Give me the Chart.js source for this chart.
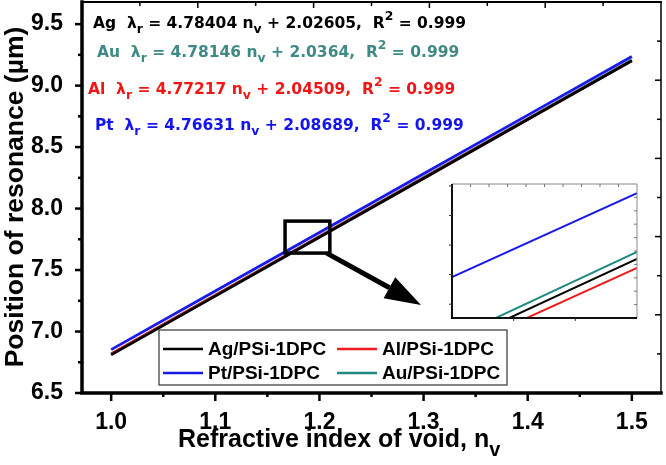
<!DOCTYPE html>
<html>
<head>
<meta charset="utf-8">
<script src="https://cdn.jsdelivr.net/npm/chart.js@4.4.1/dist/chart.umd.min.js"></script>
<style>
  html, body { margin: 0; padding: 0; background: #fff; }
  #wrap { position: relative; width: 666px; height: 465px; }
  #mainChart { position: absolute; left: 0; top: 0; }
  #insetChart { position: absolute; left: 446px; top: 178px; }
</style>
</head>
<body>
<div id="wrap">
  <canvas id="mainChart" width="666" height="465"></canvas>
  <canvas id="insetChart" width="197" height="146"></canvas>
</div>
<script>
// refractive index of void (x) and resonance position in µm (y)
const nVoid = [1.0, 1.1, 1.2, 1.3, 1.4, 1.5];
const agRes = [6.810, 7.288, 7.767, 8.245, 8.724, 9.202];
const alRes = [6.817, 7.294, 7.772, 8.249, 8.726, 9.203];
const ptRes = [6.853, 7.330, 7.806, 8.283, 8.760, 9.236];
const auRes = [6.818, 7.296, 7.774, 8.252, 8.730, 9.209];

// zoomed inset (ends of each line)
const insetN = [1.17, 1.215];
const insetAg = [7.533, 7.750];
const insetAl = [7.514, 7.727];
const insetPt = [7.704, 7.917];
const insetAu = [7.548, 7.768];

// legend names + colours
const seriesNames = ["Ag/PSi-1DPC", "Al/PSi-1DPC", "Pt/PSi-1DPC", "Au/PSi-1DPC"];
const seriesColors = ["#000000", "#ee1c1c", "#1a1ae6", "#1f8a80"];

// linear fit text
const fitMetals = ["Ag", "Au", "Al", "Pt"];
const fitSlopes = ["4.78404", "4.78146", "4.77217", "4.76631"];
const fitIntercepts = ["2.02605", "2.0364", "2.04509", "2.08689"];
const fitR2 = "0.999";
const fitColors = ["#000000", "#3f8a86", "#f01616", "#1414ee"];

const xTicks = [1.0, 1.1, 1.2, 1.3, 1.4, 1.5];
const yTicks = [6.5, 7.0, 7.5, 8.0, 8.5, 9.0, 9.5];

function pts(xs, ys) {
    return xs.map((x, i) => ({ x: x, y: ys[i] }));
}

// text with sub / superscripts
function drawRich(ctx, x, y, parts, color, size, family) {
    ctx.fillStyle = color;
    ctx.textBaseline = "alphabetic";
    ctx.textAlign = "left";
    parts.forEach(p => {
        let s = size, dy = 0;
        if (p[1] === "sub") { s = size * 0.8; dy = size * 0.35; }
        if (p[1] === "sup") { s = size * 0.8; dy = -size * 0.5; }
        ctx.font = "bold " + s + "px " + family;
        ctx.fillText(p[0], x, y + dy);
        x += ctx.measureText(p[0]).width;
    });
    return x;
}

function noPad(s) {
    s.paddingTop = 0; s.paddingBottom = 0; s.paddingLeft = 0; s.paddingRight = 0;
}

const mainDecor = {
    id: "mainDecor",
    afterDatasetsDraw(chart) {
        const ctx = chart.ctx;
        const ca = chart.chartArea;
        const xs = chart.scales.x, ys = chart.scales.y;
        ctx.save();

        // frame
        ctx.strokeStyle = "#000";
        ctx.lineCap = "square";
        ctx.lineWidth = 2;
        ctx.beginPath();
        ctx.moveTo(ca.left, ca.top); ctx.lineTo(ca.right, ca.top);
        ctx.stroke();
        ctx.lineWidth = 1.5;
        ctx.beginPath();
        ctx.moveTo(ca.right, ca.top); ctx.lineTo(ca.right, ca.bottom);
        ctx.stroke();
        ctx.lineWidth = 3.5;
        ctx.beginPath();
        ctx.moveTo(ca.left, ca.top); ctx.lineTo(ca.left, ca.bottom); ctx.lineTo(ca.right, ca.bottom);
        ctx.stroke();

        // ticks left / bottom (outward), majors + minors
        ctx.lineCap = "butt";
        ctx.lineWidth = 2.5;
        for (let v = 6.5; v <= 9.51; v += 0.25) {
            const py = ys.getPixelForValue(v);
            const major = Math.abs(v * 2 - Math.round(v * 2)) < 1e-6;
            ctx.beginPath();
            ctx.moveTo(ca.left - (major ? 7 : 4), py); ctx.lineTo(ca.left, py);
            ctx.stroke();
        }
        for (let v = 1.0; v <= 1.501; v += 0.05) {
            const px = xs.getPixelForValue(v);
            const major = Math.abs(v * 10 - Math.round(v * 10)) < 1e-6;
            ctx.beginPath();
            ctx.moveTo(px, ca.bottom); ctx.lineTo(px, ca.bottom + (major ? 8 : 4));
            ctx.stroke();
        }
        // top / right ticks (inward)
        ctx.lineWidth = 1.5;
        for (let i = 1; i < 10; i++) {
            const px = ca.left + (ca.right - ca.left) * i / 10;
            ctx.beginPath(); ctx.moveTo(px, ca.top); ctx.lineTo(px, ca.top + (i % 2 ? 4 : 6)); ctx.stroke();
            const py = ca.bottom - (ca.bottom - ca.top) * i / 10;
            ctx.beginPath(); ctx.moveTo(ca.right, py); ctx.lineTo(ca.right - (i % 2 ? 4 : 6), py); ctx.stroke();
        }

        // axis titles
        ctx.fillStyle = "#000";
        ctx.save();
        ctx.translate(23, 197);
        ctx.rotate(-Math.PI / 2);
        ctx.font = "bold 26.5px 'Liberation Sans', Arial, sans-serif";
        ctx.textAlign = "center";
        ctx.textBaseline = "alphabetic";
        ctx.fillText("Position of resonance (µm)", 0, 0);
        ctx.restore();
        drawRich(ctx, 178, 447, [["Refractive index of void, n", ""], ["v", "sub"]], "#000", 25, "'Liberation Sans', Arial, sans-serif");

        // fit equations
        const fitX = [93, 97, 88, 95];
        const fitY = [28, 57, 94, 130];
        fitMetals.forEach((m, i) => {
            drawRich(ctx, fitX[i], fitY[i], [
                [m + "  ", ""], ["λ", ""], ["r", "sub"],
                [" = " + fitSlopes[i] + " n", ""], ["v", "sub"],
                [" + " + fitIntercepts[i] + ",  R", ""], ["2", "sup"],
                [" = " + fitR2, ""]
            ], fitColors[i], 15.5, "'DejaVu Sans', Verdana, sans-serif");
        });

        // zoom box + arrow
        const bx0 = xs.getPixelForValue(1.167), bx1 = xs.getPixelForValue(1.210);
        const by0 = ys.getPixelForValue(7.898), by1 = ys.getPixelForValue(7.638);
        ctx.strokeStyle = "#000";
        ctx.lineWidth = 3.5;
        ctx.strokeRect(bx0, by0, bx1 - bx0, by1 - by0);
        const ax0 = xs.getPixelForValue(1.207), ay0 = ys.getPixelForValue(7.638);
        const ax1 = xs.getPixelForValue(1.2975), ay1 = ys.getPixelForValue(7.215);
        const ang = Math.atan2(ay1 - ay0, ax1 - ax0);
        const headLen = 36, headHalf = 12;
        const hx = ax1 - headLen * Math.cos(ang), hy = ay1 - headLen * Math.sin(ang);
        ctx.lineWidth = 5;
        ctx.beginPath(); ctx.moveTo(ax0, ay0); ctx.lineTo(hx, hy); ctx.stroke();
        ctx.fillStyle = "#000";
        ctx.beginPath();
        ctx.moveTo(ax1, ay1);
        ctx.lineTo(hx + headHalf * Math.sin(ang), hy - headHalf * Math.cos(ang));
        ctx.lineTo(hx - headHalf * Math.sin(ang), hy + headHalf * Math.cos(ang));
        ctx.closePath();
        ctx.fill();

        // legend box
        const lx = 159, ly = 330, lw = 348, lh = 55;
        ctx.fillStyle = "#fff";
        ctx.fillRect(lx, ly, lw, lh);
        ctx.strokeStyle = "#333";
        ctx.lineWidth = 1.2;
        ctx.strokeRect(lx, ly, lw, lh);
        ctx.font = "bold 19px 'Liberation Sans', Arial, sans-serif";
        ctx.textBaseline = "middle";
        ctx.textAlign = "left";
        chart.data.datasets.forEach((ds, i) => {
            const col = i % 2, row = Math.floor(i / 2);
            const x0 = lx + 4 + col * 174;
            const y0 = ly + 19 + row * 24;
            ctx.strokeStyle = ds.borderColor;
            ctx.lineWidth = 2.5;
            ctx.beginPath(); ctx.moveTo(x0, y0); ctx.lineTo(x0 + 40, y0); ctx.stroke();
            ctx.fillStyle = "#000";
            ctx.fillText(ds.label, x0 + 45, y0 + 1);
        });
        ctx.restore();
    }
};

new Chart(document.getElementById("mainChart"), {
    type: "line",
    data: {
        datasets: [
            { label: seriesNames[0], data: pts(nVoid, agRes), borderColor: seriesColors[0] },
            { label: seriesNames[1], data: pts(nVoid, alRes), borderColor: seriesColors[1] },
            { label: seriesNames[2], data: pts(nVoid, ptRes), borderColor: seriesColors[2] },
            { label: seriesNames[3], data: pts(nVoid, auRes), borderColor: seriesColors[3] }
        ]
    },
    options: {
        responsive: false,
        animation: false,
        layout: { padding: { top: 2, right: 5, left: 0, bottom: 0 } },
        elements: {
            line: { borderWidth: 2.8, tension: 0, fill: false },
            point: { radius: 0 }
        },
        plugins: { legend: { display: false }, tooltip: { enabled: false } },
        scales: {
            x: {
                type: "linear",
                min: 0.972, max: 1.528,
                grid: { display: false },
                border: { display: false },
                afterFit: s => { s.height = 72; noPad(s); },
                afterBuildTicks: s => { s.ticks = xTicks.map(v => ({ value: v })); },
                ticks: {
                    padding: 8,
                    color: "#000",
                    font: { family: "'Liberation Sans', Arial, sans-serif", size: 23, weight: "bold" },
                    callback: v => v.toFixed(1)
                }
            },
            y: {
                min: 6.5, max: 9.68,
                grid: { display: false },
                border: { display: false },
                afterFit: s => { s.width = 82; noPad(s); },
                afterBuildTicks: s => { s.ticks = yTicks.map(v => ({ value: v })); },
                ticks: {
                    padding: 11,
                    color: "#000",
                    font: { family: "'Liberation Sans', Arial, sans-serif", size: 23, weight: "bold" },
                    callback: v => v.toFixed(1)
                }
            }
        }
    },
    plugins: [mainDecor]
});

// inset
const insetDecor = {
    id: "insetDecor",
    beforeDraw(chart) {
        const ctx = chart.ctx, ca = chart.chartArea;
        ctx.save();
        ctx.fillStyle = "#fff";
        ctx.fillRect(ca.left, ca.top, ca.right - ca.left, ca.bottom - ca.top);
        ctx.restore();
    },
    afterDatasetsDraw(chart) {
        const ctx = chart.ctx, ca = chart.chartArea;
        const xs = chart.scales.x, ys = chart.scales.y;
        ctx.save();
        ctx.strokeStyle = "#888";
        ctx.lineWidth = 1;
        ctx.beginPath();
        ctx.moveTo(ca.left, ca.top); ctx.lineTo(ca.right, ca.top); ctx.lineTo(ca.right, ca.bottom);
        ctx.stroke();
        ctx.strokeStyle = "#111";
        ctx.lineWidth = 2;
        ctx.beginPath();
        ctx.moveTo(ca.left, ca.top); ctx.lineTo(ca.left, ca.bottom); ctx.lineTo(ca.right, ca.bottom);
        ctx.stroke();
        ctx.lineWidth = 1;
        ctx.strokeStyle = "#333";
        for (let v = 7.635; v < 7.94; v += 0.075) {
            const py = ys.getPixelForValue(v);
            ctx.beginPath(); ctx.moveTo(ca.left - 3, py); ctx.lineTo(ca.left, py); ctx.stroke();
        }
        [1.185, 1.2].forEach(v => {
            const px = xs.getPixelForValue(v);
            ctx.beginPath(); ctx.moveTo(px, ca.bottom); ctx.lineTo(px, ca.bottom + 3); ctx.stroke();
        });
        ctx.strokeStyle = "#777";
        for (let i = 1; i < 10; i++) {
            const px = ca.left + (ca.right - ca.left) * i / 10;
            ctx.beginPath(); ctx.moveTo(px, ca.top); ctx.lineTo(px, ca.top + 3); ctx.stroke();
            const py = ca.bottom - (ca.bottom - ca.top) * i / 10;
            ctx.beginPath(); ctx.moveTo(ca.right, py); ctx.lineTo(ca.right - 3, py); ctx.stroke();
        }
        ctx.restore();
    }
};

new Chart(document.getElementById("insetChart"), {
    type: "line",
    data: {
        datasets: [
            { data: pts(insetN, insetAg), borderColor: seriesColors[0] },
            { data: pts(insetN, insetAl), borderColor: seriesColors[1] },
            { data: pts(insetN, insetPt), borderColor: seriesColors[2] },
            { data: pts(insetN, insetAu), borderColor: seriesColors[3] }
        ]
    },
    options: {
        responsive: false,
        animation: false,
        layout: { padding: 6 },
        elements: {
            line: { borderWidth: 2, tension: 0, fill: false },
            point: { radius: 0 }
        },
        datasets: { line: { clip: 0 } },
        plugins: { legend: { display: false }, tooltip: { enabled: false } },
        scales: {
            x: { type: "linear", min: 1.17, max: 1.215, display: false },
            y: { min: 7.6, max: 7.94, display: false }
        }
    },
    plugins: [insetDecor]
});
</script>
</body>
</html>
